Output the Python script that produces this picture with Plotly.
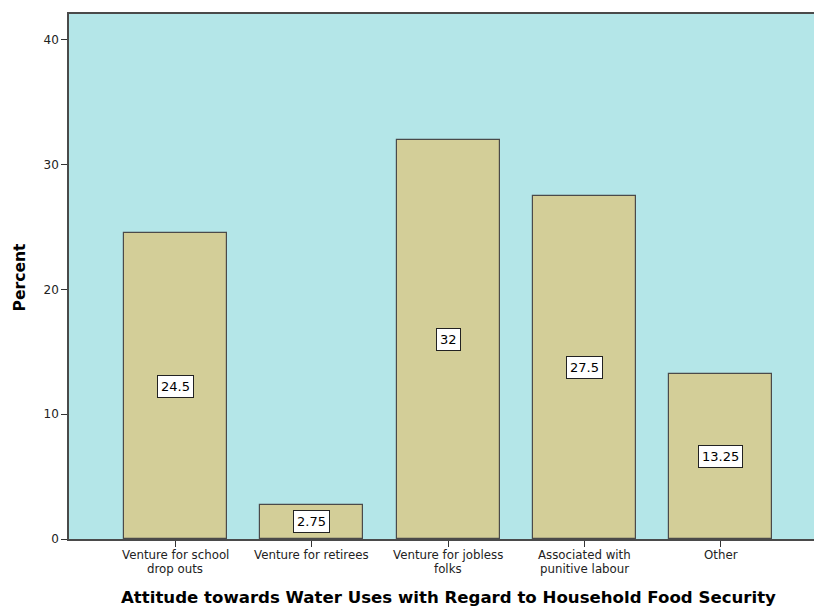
import plotly.graph_objects as go

categories = [
    "Venture for school<br>drop outs",
    "Venture for retirees",
    "Venture for jobless<br>folks",
    "Associated with<br>punitive labour",
    "Other",
]
percent = [24.5, 2.75, 32, 27.5, 13.25]
y_ticks = [0, 10, 20, 30, 40]

x_pos = list(range(len(categories)))

fig = go.Figure()
fig.add_trace(go.Bar(
    x=x_pos,
    y=percent,
    width=0.755,
    marker=dict(color="#d3ce98", line=dict(color="#4a4a4a", width=1.2)),
    hoverinfo="skip",
))

# value boxes at mid-height of each bar
for xi, v in zip(x_pos, percent):
    fig.add_annotation(
        x=xi, y=v / 2, text=f"{v:g}", showarrow=False,
        font=dict(family="DejaVu Sans", size=13, color="black"),
        bgcolor="white", bordercolor="#222222", borderwidth=1, borderpad=3,
    )

# category labels, one annotation per line for tight line spacing
for xi, cat in zip(x_pos, categories):
    for li, line in enumerate(cat.split("<br>")):
        fig.add_annotation(
            x=xi, xref="x", yref="paper", y=0, yshift=-16 - 14 * li,
            text=line, showarrow=False, yanchor="middle",
            font=dict(family="DejaVu Sans", size=11.8, color="#222222"),
        )

fig.add_annotation(
    xref="paper", yref="paper", x=0.509, y=0, yshift=-58,
    text="<b>Attitude towards Water Uses with Regard to Household Food Security</b>",
    showarrow=False, font=dict(family="DejaVu Sans", size=16.6, color="black"),
    yanchor="middle",
)
fig.add_annotation(
    xref="paper", yref="paper", x=0, xshift=-50, y=0.5, yshift=-1,
    text="<b>Percent</b>", textangle=-90, showarrow=False,
    font=dict(family="DejaVu Sans", size=15.6, color="black"), xanchor="center",
)

fig.update_layout(
    width=814, height=606,
    margin=dict(l=69, r=0, t=14, b=67),
    paper_bgcolor="white",
    plot_bgcolor="#b4e6e8",
    showlegend=False,
    bargap=0,
    xaxis=dict(
        range=[-0.78, 4.683],
        tickmode="array", tickvals=x_pos, showticklabels=False,
        ticks="outside", ticklen=6, tickcolor="#333333",
        showline=True, linecolor="#4a4a4a", linewidth=1.5, mirror=True,
        showgrid=False, zeroline=False,
    ),
    yaxis=dict(
        range=[0, 42.08],
        tickmode="array", tickvals=y_ticks,
        ticks="outside", ticklen=6, tickcolor="#333333",
        showline=True, linecolor="#4a4a4a", linewidth=1.5,
        showgrid=False, zeroline=False,
        tickfont=dict(family="DejaVu Sans", size=12, color="#222222"),
    ),
)

fig.write_html("out.html")
